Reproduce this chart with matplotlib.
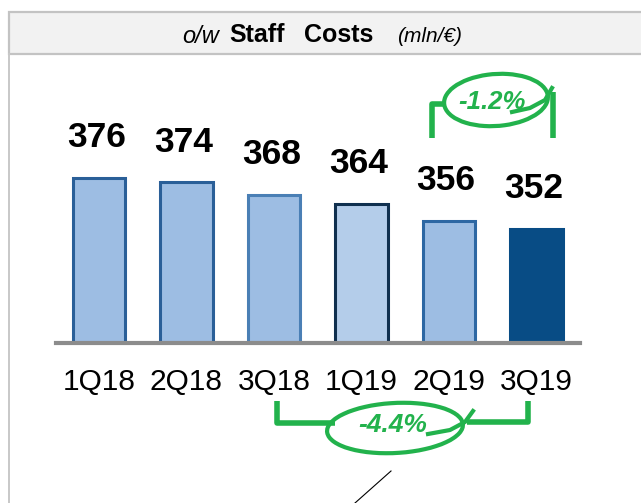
import matplotlib
matplotlib.use("Agg")
import matplotlib.pyplot as plt
from matplotlib.patches import Rectangle, Arc
import numpy as np

plt.rcParams['font.family'] = ['Liberation Sans', 'DejaVu Sans']

# data
quarters = ['1Q18', '2Q18', '3Q18', '1Q19', '2Q19', '3Q19']
costs = [376, 374, 368, 364, 356, 352]
fill_colors = ['#9dbde3', '#9dbde3', '#9dbde3', '#b4cdea', '#9dbde3', '#084c85']
edge_colors = ['#2a5f98', '#2a5f98', '#4a7fb5', '#10304f', '#2d67a3', '#084c85']
change_short = '-1.2%'
change_long = '-4.4%'

W, H = 641, 503
fig = plt.figure(figsize=(W / 100, H / 100), dpi=100)

# overlay in pixel coords (y down)
ov = fig.add_axes([0, 0, 1, 1])
ov.set_xlim(0, W)
ov.set_ylim(H, 0)
ov.axis('off')

green = '#22b24c'

# frame + title box
ov.add_patch(Rectangle((9, 12), 640, 42, facecolor='#f2f2f2', edgecolor='#c3c3c3', lw=1.6))
ov.plot([9, 9], [54, H], color='#c8c8c8', lw=1.4)
ov.text(182, 36, 'o/w', fontsize=17, style='italic', va='center', ha='left')
ov.text(229, 35, 'Staff', fontsize=18, weight='bold', va='center', ha='left')
ov.text(304, 35, 'Costs', fontsize=18, weight='bold', va='center', ha='left')
ov.text(397, 36, '(mln/€)', fontsize=15, style='italic', va='center', ha='left')

# bar axes
ax = fig.add_axes([56 / W, 160 / H, 524 / W, 289 / H])
x = np.arange(len(quarters))
ax.bar(x, costs, width=0.6, color=fill_colors, edgecolor=edge_colors, linewidth=2.2, zorder=2)
ax.set_xlim(-0.49, 5.5)
ax.set_ylim(298.4, 434.4)
for s in ['top', 'right', 'left']:
    ax.spines[s].set_visible(False)
ax.spines['bottom'].set_color('#8c8c8c')
ax.spines['bottom'].set_linewidth(3)
ax.set_yticks([])
ax.set_xticks(x)
ax.set_xticklabels(quarters, fontsize=21.5)
ax.tick_params(axis='x', length=0, pad=18)
ax.patch.set_alpha(0)

for xi, v in zip(x, costs):
    ax.annotate(str(v), (xi - 0.03, v), xytext=(0, 17), textcoords='offset points',
                ha='center', va='bottom', fontsize=25.5, weight='bold')

# green annotation: last quarter vs previous
ov.plot([432, 432, 446], [138, 104, 104], color=green, lw=4, solid_capstyle='butt')
ov.plot([553, 553], [138, 92], color=green, lw=4, solid_capstyle='butt')
ov.add_patch(Arc((496, 100), 104, 52, angle=-4, theta1=-30, theta2=330, color=green, lw=3))
ov.plot([512, 530, 545, 552], [112, 108, 100, 88], color=green, lw=3)
ov.text(492, 102, change_short, color=green, fontsize=18.5, weight='bold', style='italic',
        ha='center', va='center')

# green annotation: year over year
ov.plot([277, 277, 335], [401, 423, 423], color=green, lw=4, solid_capstyle='butt')
ov.plot([467, 528, 528], [422, 422, 401], color=green, lw=4, solid_capstyle='butt')
ov.add_patch(Arc((395, 428), 136, 50, angle=-3, theta1=-25, theta2=335, color=green, lw=3))
ov.plot([428, 450, 465, 473], [434, 430, 422, 411], color=green, lw=3)
ov.text(393, 425, change_long, color=green, fontsize=19, weight='bold', style='italic',
        ha='center', va='center')

# thin pointer line
ov.plot([355, 391], [503, 471], color='black', lw=0.8)

fig.savefig('out.png', dpi=100)
